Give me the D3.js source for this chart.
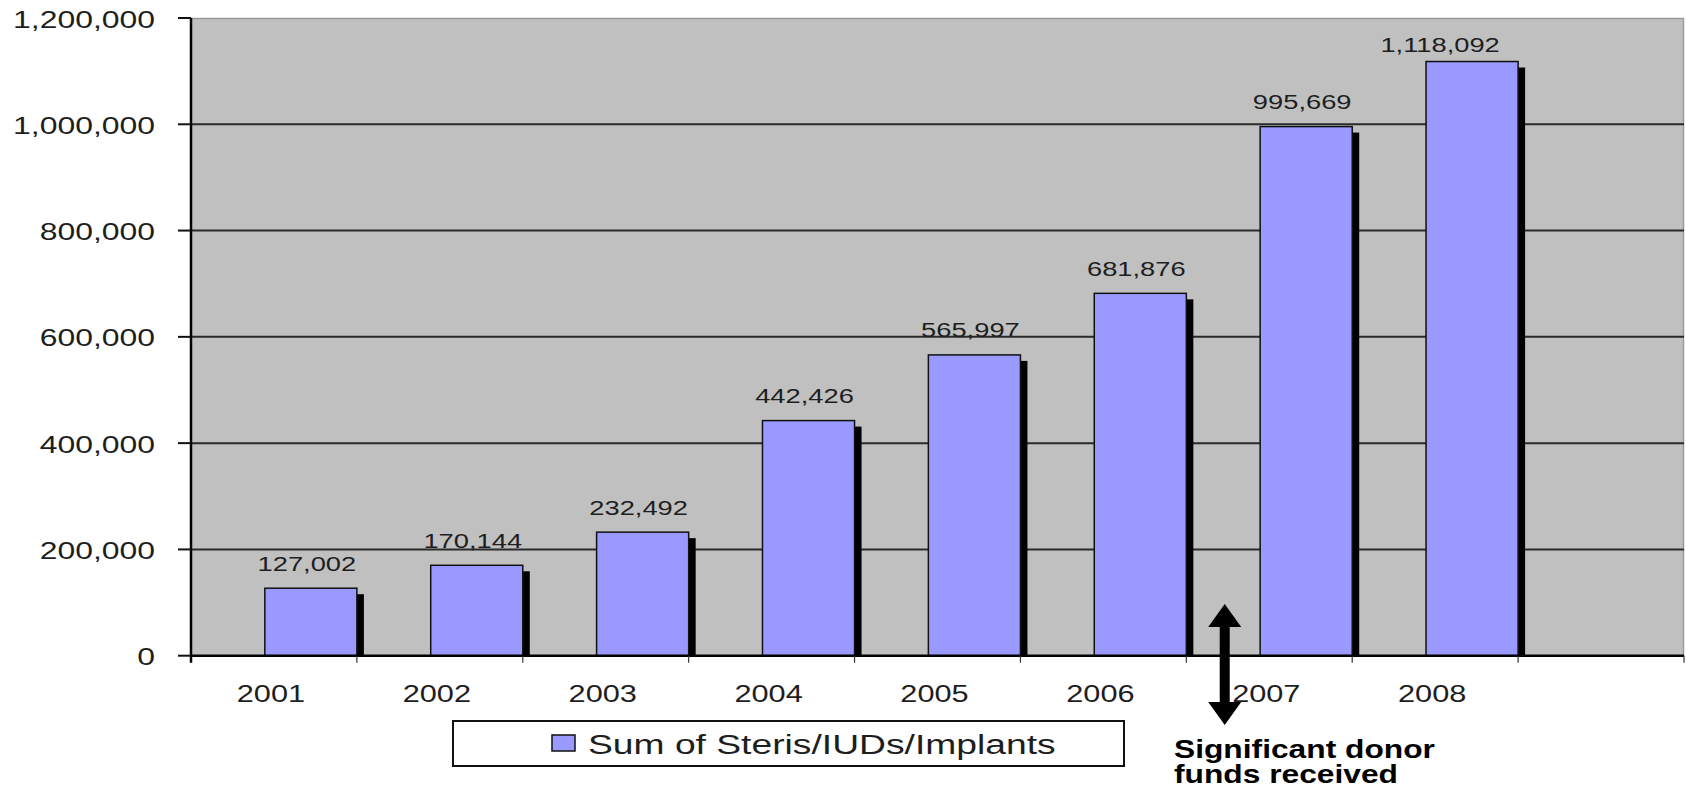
<!DOCTYPE html>
<html>
<head>
<meta charset="utf-8">
<script src="https://cdn.jsdelivr.net/npm/d3@7"></script>
<style>
  html, body { margin: 0; padding: 0; background: #ffffff; }
  svg { display: block; }
  text { font-family: "Liberation Sans", Arial, sans-serif; }
</style>
</head>
<body>
<svg id="chart" width="1686" height="788"></svg>
<script>
// ---- data ----
const years = ["2001", "2002", "2003", "2004", "2005", "2006", "2007", "2008"];
const values = [127002, 170144, 232492, 442426, 565997, 681876, 995669, 1118092];
const yTickValues = [0, 200000, 400000, 600000, 800000, 1000000, 1200000];
const seriesName = "Sum of Steris/IUDs/Implants";
const annotationLines = ["Significant donor", "funds received"];
const annotationYear = "2007";

// ---- layout ----
const plot = { left: 191, right: 1684, top: 18, bottom: 655.7 };
const svg = d3.select("#chart");
const fmt = d3.format(",");

const x = d3.scaleBand()
  .domain([...years, ""])          // one empty slot at the right, as in the original
  .range([plot.left, plot.right])
  .paddingInner(0).paddingOuter(0);
const y = d3.scaleLinear().domain([0, 1200000]).range([plot.bottom, plot.top]);
const bw = x.bandwidth();
const barW = bw * 0.555;

// plot background
svg.append("rect")
  .attr("x", plot.left).attr("y", plot.top)
  .attr("width", plot.right - plot.left).attr("height", plot.bottom - plot.top)
  .attr("fill", "#c0c0c0");
svg.append("path")
  .attr("d", `M${plot.left},${plot.top + 0.5}H${plot.right - 0.5}V${plot.bottom}`)
  .attr("fill", "none").attr("stroke", "#9a9a9a").attr("stroke-width", 1.5);

// gridlines
svg.append("g").selectAll("line")
  .data(yTickValues.filter(v => v > 0 && v < 1200000))
  .join("line")
  .attr("x1", plot.left).attr("x2", plot.right)
  .attr("y1", d => y(d)).attr("y2", d => y(d))
  .attr("stroke", "#2a2a2a").attr("stroke-width", 2);

// bars with shadow
const data = years.map((yr, i) => ({ year: yr, value: values[i] }));
const barX = d => x(d.year) + bw - barW;
const bars = svg.append("g");
bars.selectAll("rect.shadow").data(data).join("rect")
  .attr("class", "shadow")
  .attr("x", d => barX(d) + 7)
  .attr("y", d => y(d.value) + 6)
  .attr("width", barW)
  .attr("height", d => plot.bottom - y(d.value) - 6)
  .attr("fill", "#000");
bars.selectAll("rect.bar").data(data).join("rect")
  .attr("class", "bar")
  .attr("x", d => barX(d))
  .attr("y", d => y(d.value))
  .attr("width", barW)
  .attr("height", d => plot.bottom - y(d.value))
  .attr("fill", "#9999ff")
  .attr("stroke", "#111").attr("stroke-width", 1.5);

// x axis line and ticks
svg.append("line")
  .attr("x1", plot.left).attr("x2", plot.right)
  .attr("y1", plot.bottom).attr("y2", plot.bottom)
  .attr("stroke", "#000").attr("stroke-width", 2.5);
const boundaries = x.domain().map(d => x(d) + bw);
svg.append("g").selectAll("line").data(boundaries).join("line")
  .attr("x1", d => d).attr("x2", d => d)
  .attr("y1", plot.bottom).attr("y2", plot.bottom + 7)
  .attr("stroke", "#333").attr("stroke-width", 1.2);

// y axis line and ticks
svg.append("line")
  .attr("x1", plot.left).attr("x2", plot.left)
  .attr("y1", plot.top).attr("y2", plot.bottom + 7)
  .attr("stroke", "#000").attr("stroke-width", 2.5);
svg.append("g").selectAll("line").data(yTickValues).join("line")
  .attr("x1", plot.left - 13).attr("x2", plot.left)
  .attr("y1", d => y(d)).attr("y2", d => y(d))
  .attr("stroke", "#111").attr("stroke-width", 2);

// y tick labels
svg.append("g").selectAll("text").data(yTickValues).join("text")
  .attr("transform", d => `translate(155,${y(d) + 9.5}) scale(1.33,1)`)
  .attr("text-anchor", "end")
  .attr("font-size", 24)
  .attr("fill", "#1e1e1e")
  .text(d => fmt(d));

// x labels
svg.append("g").selectAll("text").data(years).join("text")
  .attr("transform", d => `translate(${x(d) + bw / 2 - 3},702) scale(1.28,1)`)
  .attr("text-anchor", "middle")
  .attr("font-size", 24)
  .attr("fill", "#1e1e1e")
  .text(d => d);

// value labels
const maxVal = d3.max(values);
svg.append("g").selectAll("text").data(data).join("text")
  .attr("transform", d => {
    const cx = barX(d) + barW / 2 - (d.value === maxVal ? 32 : 4);
    const by = Math.max(y(d.value) - 17.5, plot.top + 34);
    return `translate(${cx},${by}) scale(1.4,1)`;
  })
  .attr("text-anchor", "middle")
  .attr("font-size", 19.5)
  .attr("fill", "#1e1e1e")
  .text(d => fmt(d.value));

// legend
const lg = svg.append("g");
lg.append("rect")
  .attr("x", 453).attr("y", 721).attr("width", 671).attr("height", 45)
  .attr("fill", "#fff").attr("stroke", "#111").attr("stroke-width", 2);
lg.append("rect")
  .attr("x", 552).attr("y", 735).attr("width", 23).attr("height", 16)
  .attr("fill", "#9999ff").attr("stroke", "#111").attr("stroke-width", 1.5);
lg.append("text")
  .attr("transform", "translate(588,753.5) scale(1.33,1)")
  .attr("font-size", 28).attr("fill", "#1e1e1e")
  .text(seriesName);

// annotation: double-headed arrow between 2006 and 2007 bars
const ax = x(annotationYear) + (bw - barW) * 0.52;
const aTop = 604, aBot = 725, head = 23, hw = 16.5, sw = 5;
svg.append("path")
  .attr("d", `M${ax},${aTop} L${ax + hw},${aTop + head} L${ax + sw},${aTop + head}
              L${ax + sw},${aBot - head} L${ax + hw},${aBot - head} L${ax},${aBot}
              L${ax - hw},${aBot - head} L${ax - sw},${aBot - head} L${ax - sw},${aTop + head}
              L${ax - hw},${aTop + head} Z`)
  .attr("fill", "#000");

svg.append("g").selectAll("text").data(annotationLines).join("text")
  .attr("transform", (d, i) => `translate(1174,${758 + i * 25}) scale(1.27,1)`)
  .attr("font-size", 25)
  .attr("font-weight", "bold")
  .attr("fill", "#000")
  .text(d => d);
</script>
</body>
</html>
